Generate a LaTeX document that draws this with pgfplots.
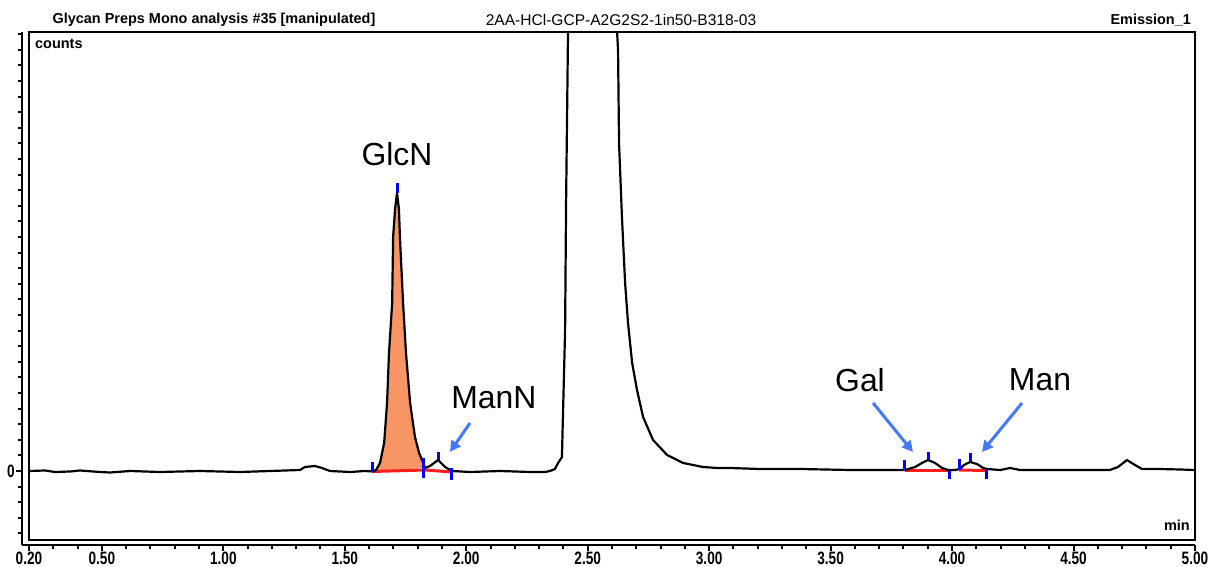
\documentclass[border=0pt]{standalone}
\usepackage{pgfplots}
\pgfplotsset{compat=1.18}
\usepackage{fontspec}
\setmainfont{Liberation Sans}
\usetikzlibrary{arrows.meta}
\definecolor{glcn}{RGB}{247,150,100}
\definecolor{arrowblue}{RGB}{70,120,250}
\definecolor{tickblue}{RGB}{0,0,255}
\definecolor{basered}{RGB}{255,30,30}
\newcommand\tl[1]{\scalebox{0.76}[1]{#1}}
\newcommand\hfnt{\bfseries\fontsize{14.5}{16}\selectfont}
\newcommand\pfnt{\fontsize{32}{36}\selectfont}

\begin{document}
\begin{tikzpicture}
\useasboundingbox (0bp,0bp) rectangle (1213bp,567bp);
% outer axis lines with ticks
\begin{axis}[
  at={(22bp,22bp)}, anchor=south west, scale only axis,
  width=1173bp, height=513bp,
  xmin=0.1712, xmax=5.0, ymin=-74, ymax=439,
  axis x line*=bottom, axis y line*=left,
  axis line style={line width=2bp,-},
  xtick={0.2,0.5,1,1.5,2,2.5,3,3.5,4,4.5,5},
  xticklabels={\tl{0.20},\tl{0.50},\tl{1.00},\tl{1.50},\tl{2.00},\tl{2.50},\tl{3.00},\tl{3.50},\tl{4.00},\tl{4.50},\tl{5.00}},
  minor xtick={0.3,0.4,0.6,0.7,0.8,0.9,1.1,1.2,1.3,1.4,1.6,1.7,1.8,1.9,2.1,2.2,2.3,2.4,2.6,2.7,2.8,2.9,3.1,3.2,3.3,3.4,3.6,3.7,3.8,3.9,4.1,4.2,4.3,4.4,4.6,4.7,4.8,4.9},
  ytick={0}, yticklabels={\tl{0}},
  minor ytick={-62.4,-46.8,...,436.8},
  tick align=outside, major tick length=6bp, minor tick length=4bp,
  tick style={line width=2bp, black},
  ticklabel style={font=\bfseries\fontsize{18}{20}\selectfont, inner sep=0pt},
  xticklabel style={yshift=-0.5bp},
  yticklabel style={xshift=-1bp},
]
\addplot[draw=none] coordinates {(1,0)};
\end{axis}
% frame with the trace
\begin{axis}[
  at={(29bp,27bp)}, anchor=south west, scale only axis,
  width=1166bp, height=508bp,
  xmin=0.2, xmax=5.0, ymin=-69, ymax=439,
  axis line style={line width=2bp},
  xtick=\empty, ytick=\empty,
]
% GlcN filled area
\addplot[fill=glcn, draw=none] coordinates {
(1.616,-0.5) (1.629,1) (1.645,8) (1.662,28) (1.674,68) (1.682,118) (1.695,168)
(1.699,234) (1.707,262) (1.715,278) (1.723,262) (1.727,234) (1.740,168)
(1.752,118) (1.769,68) (1.789,34) (1.806,18) (1.818,11) (1.830,3) (1.616,-0.5)};
% integration baselines
\addplot[basered, line width=3bp] coordinates {(1.616,-0.5) (1.830,1)};
\addplot[basered, line width=3bp] coordinates {(1.830,1) (1.941,-1)};
\addplot[basered, line width=3bp] coordinates {(3.806,0) (3.988,0)};
\addplot[basered, line width=3bp] coordinates {(4.029,1) (4.140,0.5)};
% trace
\addplot[black, line width=2.2bp, line join=round] coordinates {
(0.200,0) (0.266,0.5) (0.307,-1) (0.369,-0.5) (0.410,0.5) (0.492,-1) (0.533,-1.5)
(0.616,0) (0.739,-1) (0.904,0) (1.069,-1) (1.192,0) (1.316,1) (1.336,4) (1.377,5)
(1.406,3) (1.439,0) (1.522,-1) (1.583,0) (1.616,-0.5) (1.629,1) (1.645,8)
(1.662,28) (1.674,68) (1.682,118) (1.695,168) (1.699,234) (1.707,262) (1.715,278)
(1.723,262) (1.727,234) (1.740,168) (1.752,118) (1.769,68) (1.789,34) (1.806,18)
(1.818,11) (1.830,3) (1.851,5) (1.884,11) (1.913,4) (1.941,0) (2.016,-1)
(2.139,0) (2.263,-1) (2.324,-1) (2.345,0) (2.365,2) (2.378,8) (2.394,14)
(2.398,54) (2.407,141) (2.411,268) (2.419,439) (2.425,900) (2.51,1000)
(2.615,900) (2.621,439) (2.625,421) (2.629,328) (2.641,254) (2.654,188)
(2.666,148) (2.683,108) (2.703,81) (2.728,54) (2.769,31) (2.827,16) (2.893,8)
(2.975,4) (3.033,3) (3.086,3) (3.209,2) (3.374,2) (3.580,1) (3.703,1) (3.806,1)
(3.848,4) (3.876,8) (3.901,11) (3.930,8) (3.959,3) (3.983,1) (4.012,1) (4.033,2)
(4.049,6) (4.074,9) (4.103,7) (4.128,3) (4.144,2) (4.198,1) (4.239,3) (4.280,1)
(4.403,1) (4.527,1) (4.650,1) (4.683,4) (4.720,11) (4.753,6) (4.782,2) (4.856,2)
(4.939,1.5) (5.000,1)};
% peak markers
\addplot[tickblue, line width=3bp] coordinates {(1.616,-1) (1.616,9)};
\addplot[tickblue, line width=3bp] coordinates {(1.715,278) (1.715,288)};
\addplot[tickblue, line width=3bp] coordinates {(1.826,-7) (1.826,13)};
\addplot[tickblue, line width=3bp] coordinates {(1.884,11) (1.884,19)};
\addplot[tickblue, line width=3bp] coordinates {(1.941,-9) (1.941,3)};
\addplot[tickblue, line width=3bp] coordinates {(3.806,0) (3.806,11)};
\addplot[tickblue, line width=3bp] coordinates {(3.905,11) (3.905,19)};
\addplot[tickblue, line width=3bp] coordinates {(3.988,-8) (3.988,0)};
\addplot[tickblue, line width=3bp] coordinates {(4.029,1) (4.029,12)};
\addplot[tickblue, line width=3bp] coordinates {(4.074,10) (4.074,18)};
\addplot[tickblue, line width=3bp] coordinates {(4.140,-8) (4.140,2)};
% annotations
\draw[arrowblue, line width=3bp, -{Triangle[length=11bp,width=11bp]}] (axis cs:2.0156,48) -- (axis cs:1.933,19);
\draw[arrowblue, line width=3bp, -{Triangle[length=11bp,width=11bp]}] (axis cs:3.675,68) -- (axis cs:3.839,19);
\draw[arrowblue, line width=3bp, -{Triangle[length=11bp,width=11bp]}] (axis cs:4.288,68) -- (axis cs:4.123,19);
\node[font=\pfnt] at (axis cs:1.715,317) {GlcN};
\node[font=\pfnt] at (axis cs:2.114,73) {ManN};
\node[font=\pfnt] at (axis cs:3.621,91) {Gal};
\node[font=\pfnt] at (axis cs:4.362,91) {Man};
\end{axis}
% header texts
\node[font=\hfnt, anchor=base] at (214bp,543bp) {Glycan Preps Mono analysis \#35 [manipulated]};
\node[font=\fontsize{15.6}{18}\selectfont, anchor=base] at (621bp,541bp) {2AA-HCl-GCP-A2G2S2-1in50-B318-03};
\node[font=\hfnt, anchor=base east, inner sep=0pt] at (1191bp,542bp) {Emission\_1};
\node[font=\hfnt, anchor=base west, inner sep=0pt] at (35bp,518bp) {counts};
\node[font=\hfnt, anchor=base east, inner sep=0pt] at (1190bp,37bp) {min};
\end{tikzpicture}
\end{document}
